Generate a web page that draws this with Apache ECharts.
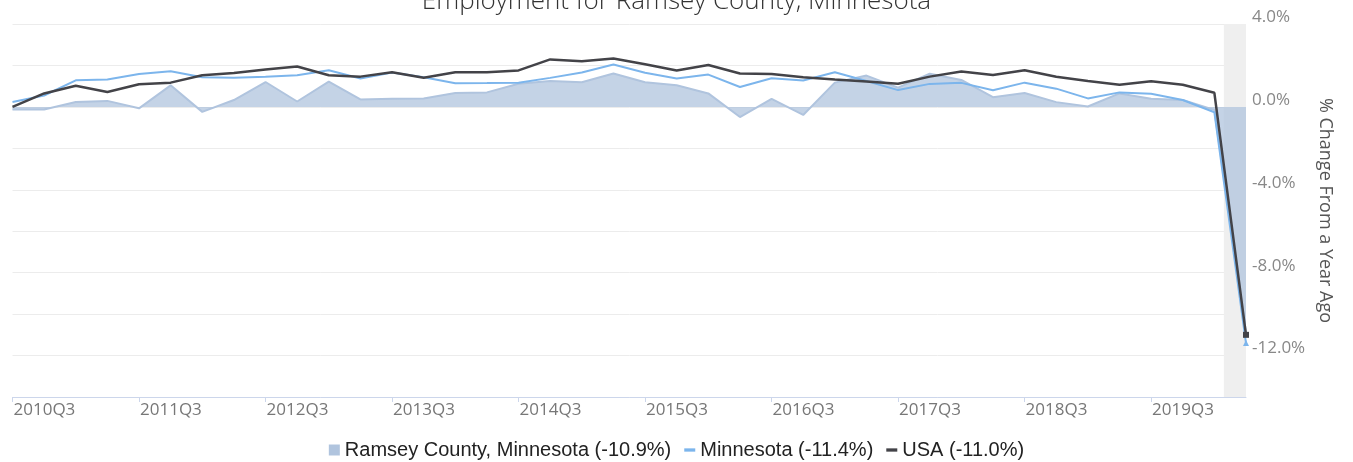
<!DOCTYPE html>
<html>
<head>
<meta charset="utf-8">
<title>Employment for Ramsey County, Minnesota</title>
<script src="https://cdn.jsdelivr.net/npm/echarts@6/dist/echarts.min.js"></script>
<style>
  html, body { margin: 0; padding: 0; background: #fff; }
  #main { width: 1353px; height: 462px; }
</style>
</head>
<body>
<div id="main"></div>
<script>
// quarters shown on the x axis
var quarters = [
    '2010Q3', '2010Q4', '2011Q1', '2011Q2', '2011Q3', '2011Q4', '2012Q1', '2012Q2',
    '2012Q3', '2012Q4', '2013Q1', '2013Q2', '2013Q3', '2013Q4', '2014Q1', '2014Q2',
    '2014Q3', '2014Q4', '2015Q1', '2015Q2', '2015Q3', '2015Q4', '2016Q1', '2016Q2',
    '2016Q3', '2016Q4', '2017Q1', '2017Q2', '2017Q3', '2017Q4', '2018Q1', '2018Q2',
    '2018Q3', '2018Q4', '2019Q1', '2019Q2', '2019Q3', '2019Q4', '2020Q1', '2020Q2'
];

// % change from a year ago
var ramsey = [
    -0.12, -0.13, 0.24, 0.29, -0.07, 1.04, -0.24, 0.33, 1.20, 0.26,
    1.22, 0.36, 0.39, 0.41, 0.67, 0.70, 1.12, 1.25, 1.19, 1.61,
    1.19, 1.04, 0.65, -0.49, 0.39, -0.39, 1.17, 1.51, 0.93, 1.60,
    1.30, 0.47, 0.67, 0.23, 0.02, 0.65, 0.39, 0.33, -0.15, -10.9
];
var minnesota = [
    0.24, 0.55, 1.28, 1.32, 1.59, 1.72, 1.43, 1.41, 1.45, 1.53,
    1.77, 1.37, 1.66, 1.43, 1.14, 1.15, 1.17, 1.40, 1.66, 2.05,
    1.65, 1.37, 1.56, 0.96, 1.38, 1.27, 1.67, 1.25, 0.81, 1.11,
    1.16, 0.80, 1.17, 0.88, 0.41, 0.70, 0.63, 0.33, -0.26, -11.4
];
var usa = [
    0.00, 0.65, 1.02, 0.72, 1.09, 1.17, 1.53, 1.63, 1.80, 1.95,
    1.53, 1.46, 1.67, 1.41, 1.67, 1.67, 1.76, 2.29, 2.20, 2.34,
    2.06, 1.76, 2.02, 1.61, 1.59, 1.43, 1.32, 1.22, 1.12, 1.46,
    1.71, 1.54, 1.77, 1.45, 1.25, 1.07, 1.24, 1.07, 0.68, -11.0
];

var seriesNames = ['Ramsey County, Minnesota (-10.9%)', 'Minnesota (-11.4%)', 'USA (-11.0%)'];
// recession shading, in quarter index units
var recessionBand = [38.3, 39];

// only the last point gets a marker
function endMarker(values, symbol) {
    return values.map(function (v, i) {
        if (i === values.length - 1) {
            return { value: v, symbol: symbol, symbolSize: 6 };
        }
        return v;
    });
}

var myChart = echarts.init(document.getElementById('main'));

var option = {
    animation: false,
    title: {
        text: 'Employment for Ramsey County, Minnesota',
        left: 'center',
        top: -16,
        textStyle: {
            fontFamily: 'Open Sans',
            fontSize: 26,
            fontWeight: 300,
            color: '#333'
        }
    },
    legend: {
        top: 440,
        left: 'center',
        padding: 0,
        itemWidth: 11,
        itemHeight: 11,
        itemGap: 13,
        textStyle: {
            fontFamily: 'Liberation Sans',
            fontSize: 20,
            color: '#222'
        },
        data: [
            { name: seriesNames[0], icon: 'rect' },
            { name: seriesNames[1], icon: 'path://M0,0 L10,0 L10,3 L0,3 Z' },
            { name: seriesNames[2], icon: 'path://M0,0 L10,0 L10,3 L0,3 Z' }
        ]
    },
    grid: {
        left: 12.5,
        right: 107,
        top: 24,
        bottom: 65
    },
    xAxis: [{
        type: 'category',
        data: quarters,
        boundaryGap: false,
        axisLine: { onZero: false, lineStyle: { color: '#ccd6eb' } },
        axisTick: { interval: 3, length: 5, lineStyle: { color: '#ccd6eb' } },
        axisLabel: {
            interval: 3,
            align: 'left',
            margin: 5,
            padding: [0, 0, 0, 1],
            fontFamily: 'Open Sans',
            fontSize: 17,
            color: '#777'
        },
        splitLine: { show: false }
    }, {
        type: 'value',
        min: 0,
        max: quarters.length - 1,
        show: false
    }],
    yAxis: {
        type: 'value',
        position: 'right',
        min: -14,
        max: 4,
        interval: 2,
        name: '% Change From a Year Ago',
        nameLocation: 'middle',
        nameRotate: -90,
        nameGap: 70,
        nameTextStyle: {
            fontFamily: 'Open Sans',
            fontSize: 18,
            color: '#555'
        },
        axisLine: { show: false },
        axisTick: { show: false },
        axisLabel: {
            margin: 6,
            verticalAlign: 'bottom',
            lineHeight: 14,
            fontFamily: 'Open Sans',
            fontSize: 17,
            color: '#888',
            formatter: function (v) {
                return v % 4 === 0 ? v.toFixed(1) + '%' : '';
            }
        },
        splitLine: { lineStyle: { color: '#ececec' } }
    },
    series: [{
        name: 'recession',
        type: 'line',
        xAxisIndex: 1,
        data: [],
        silent: true,
        markArea: {
            silent: true,
            itemStyle: { color: '#efefef' },
            data: [[{ xAxis: recessionBand[0] }, { xAxis: recessionBand[1] }]]
        }
    }, {
        name: seriesNames[0],
        type: 'line',
        data: ramsey,
        symbol: 'none',
        color: '#b0c4de',
        lineStyle: { width: 2, color: '#b0c4de' },
        areaStyle: { color: '#b0c4de', opacity: 0.75 }
    }, {
        name: seriesNames[1],
        type: 'line',
        data: endMarker(minnesota, 'triangle'),
        symbol: 'none',
        color: '#7cb5ec',
        lineStyle: { width: 2, color: '#7cb5ec' }
    }, {
        name: seriesNames[2],
        type: 'line',
        data: endMarker(usa, 'rect'),
        symbol: 'none',
        color: '#434348',
        lineStyle: { width: 2.5, color: '#434348' }
    }]
};

myChart.setOption(option);
</script>
</body>
</html>
